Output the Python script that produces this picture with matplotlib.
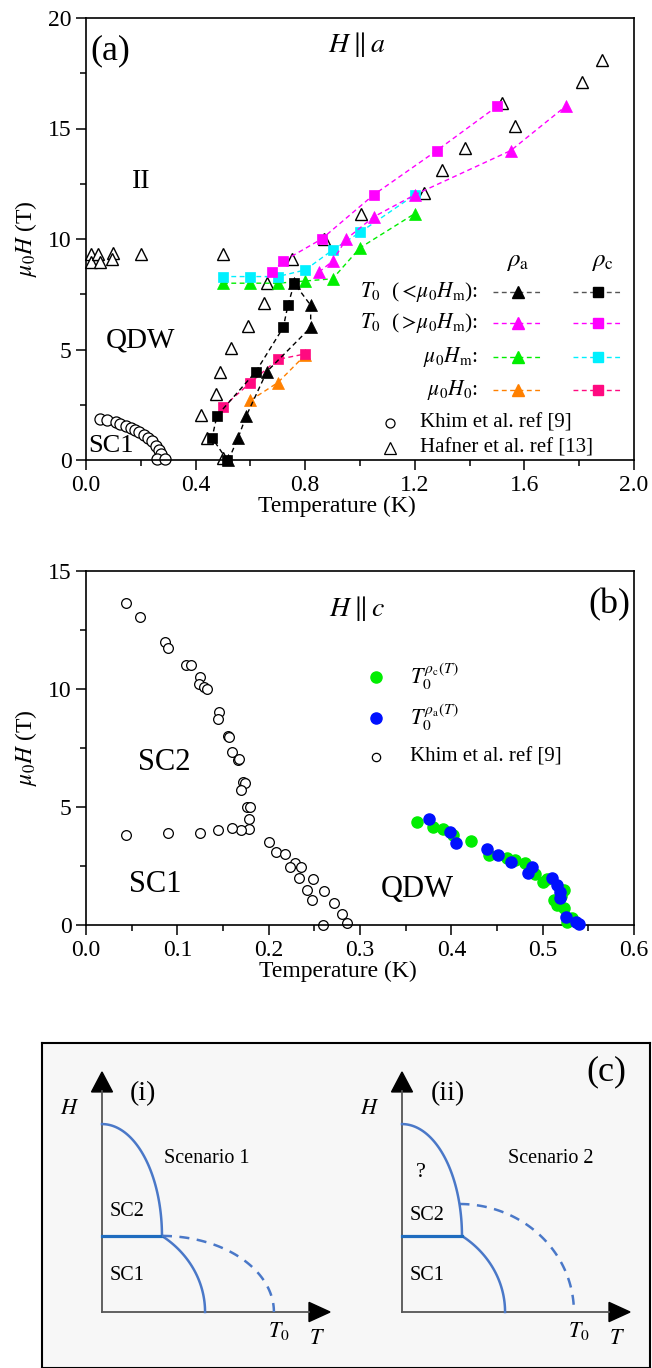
import numpy as np
import matplotlib
matplotlib.use("Agg")
import matplotlib.pyplot as plt
from matplotlib.patches import Polygon
from matplotlib.ticker import MultipleLocator, FormatStrFormatter

plt.rcParams['font.family'] = ['Liberation Serif', 'DejaVu Serif']
plt.rcParams['mathtext.fontset'] = 'stix'

# ---------------- panel (a): H || a ----------------
khim_a_T = [0.05, 0.075, 0.11, 0.125, 0.145, 0.165, 0.18, 0.195, 0.21, 0.225,
            0.24, 0.255, 0.265, 0.275, 0.26, 0.29]
khim_a_H = [1.85, 1.8, 1.72, 1.65, 1.55, 1.45, 1.35, 1.25, 1.15, 1.0,
            0.85, 0.65, 0.45, 0.25, 0.05, 0.05]

hafner_T = [0.018, 0.018, 0.045, 0.052, 0.10, 0.095, 0.20, 0.50, 0.50, 0.44,
            0.42, 0.475, 0.49, 0.53, 0.59, 0.65, 0.66, 0.75, 0.87, 1.005,
            1.235, 1.30, 1.385, 1.52, 1.565, 1.81, 1.885]
hafner_H = [9.3, 8.95, 9.3, 8.95, 9.35, 9.1, 9.3, 9.3, 0.1, 1.0,
            2.05, 3.0, 4.0, 5.05, 6.05, 7.1, 8.0, 9.1, 10.0, 11.15,
            12.1, 13.1, 14.1, 16.15, 15.1, 17.1, 18.1]

# T0 below the metamagnetic field
t0_low_a_T = [0.52, 0.555, 0.585, 0.66, 0.82, 0.82, 0.76]
t0_low_a_H = [0.0, 1.0, 2.0, 4.0, 6.0, 7.0, 8.0]
t0_low_c_T = [0.515, 0.46, 0.478, 0.62, 0.72, 0.737, 0.76]
t0_low_c_H = [0.0, 1.0, 2.0, 4.0, 6.0, 7.0, 8.0]

# T0 above the metamagnetic field
t0_high_a_T = [0.85, 0.9, 0.95, 1.05, 1.2, 1.55, 1.75]
t0_high_a_H = [8.5, 9.0, 10.0, 11.0, 12.0, 14.0, 16.0]
t0_high_c_T = [0.68, 0.72, 0.86, 1.05, 1.28, 1.5]
t0_high_c_H = [8.5, 9.0, 10.0, 12.0, 14.0, 16.0]

# metamagnetic field Hm
hm_a_T = [0.5, 0.6, 0.7, 0.8, 0.9, 1.0, 1.2]
hm_a_H = [8.0, 8.0, 8.0, 8.1, 8.2, 9.6, 11.15]
hm_c_T = [0.5, 0.6, 0.7, 0.8, 0.9, 1.0, 1.2]
hm_c_H = [8.3, 8.3, 8.3, 8.6, 9.5, 10.3, 12.0]

# field H0
h0_a_T = [0.6, 0.7, 0.8]
h0_a_H = [2.7, 3.5, 4.75]
h0_c_T = [0.5, 0.6, 0.7, 0.8]
h0_c_H = [2.4, 3.5, 4.55, 4.8]

# ---------------- panel (b): H || c ----------------
khim_b_T = [0.044, 0.059, 0.086, 0.09, 0.110, 0.115, 0.125, 0.124, 0.129, 0.133,
            0.146, 0.144, 0.156, 0.157, 0.160, 0.166, 0.167, 0.172, 0.174, 0.170,
            0.176, 0.180, 0.179, 0.179, 0.170, 0.160, 0.144, 0.125, 0.090, 0.044,
            0.200, 0.208, 0.218, 0.229, 0.223, 0.235, 0.233, 0.249, 0.242, 0.247,
            0.261, 0.271, 0.280, 0.286, 0.260]
khim_b_H = [13.64, 13.05, 12.0, 11.73, 11.0, 11.0, 10.5, 10.2, 10.1, 10.0,
            9.03, 8.73, 8.0, 7.97, 7.33, 7.0, 7.03, 6.06, 6.0, 5.72,
            5.0, 5.0, 4.49, 4.07, 4.03, 4.1, 4.03, 3.9, 3.9, 3.83,
            3.5, 3.1, 3.0, 2.63, 2.46, 2.46, 1.99, 1.95, 1.48, 1.06,
            1.44, 0.93, 0.47, 0.08, 0.0]

t0_rhoc_T = [0.362, 0.38, 0.391, 0.402, 0.421, 0.441, 0.461, 0.47, 0.481, 0.492,
             0.50, 0.505, 0.512, 0.516, 0.523, 0.52, 0.523, 0.527, 0.532]
t0_rhoc_H = [4.36, 4.15, 4.07, 3.81, 3.56, 2.97, 2.84, 2.75, 2.63, 2.16,
             1.82, 1.95, 1.06, 0.85, 1.48, 1.25, 0.72, 0.13, 0.3]
t0_rhoa_T = [0.375, 0.399, 0.405, 0.439, 0.451, 0.465, 0.488, 0.484, 0.51, 0.516,
             0.519, 0.519, 0.525, 0.536, 0.54]
t0_rhoa_H = [4.49, 3.94, 3.47, 3.22, 2.97, 2.67, 2.46, 2.2, 1.99, 1.69,
             1.40, 1.14, 0.34, 0.13, 0.05]

BLACK = '#000000'
MAGENTA = '#ff00ff'
GREEN = '#00ee00'
CYAN = '#00f0ff'
ORANGE = '#ff8000'
PINK = '#ff0a80'
BLUE = '#0010ff'
DASH = (0, (3.5, 2.5))

W, H = 652, 1368
fig = plt.figure(figsize=(W / 100, H / 100), dpi=100)


def box(l, t, r, b):
    return [l / W, 1 - b / H, (r - l) / W, (b - t) / H]


def style(ax):
    for s in ax.spines.values():
        s.set_linewidth(1.2)
    ax.tick_params(which='both', direction='out', top=False, right=False,
                   labelsize=17, width=1.1)
    ax.tick_params(which='major', length=7)
    ax.tick_params(which='minor', length=4)


# ================= panel (a) =================
ax_a = fig.add_axes(box(86, 18, 634, 460))
style(ax_a)
ax_a.set_xlim(0, 2.0)
ax_a.set_ylim(0, 20)
ax_a.xaxis.set_major_locator(MultipleLocator(0.4))
ax_a.xaxis.set_minor_locator(MultipleLocator(0.2))
ax_a.xaxis.set_major_formatter(FormatStrFormatter('%.1f'))
ax_a.yaxis.set_major_locator(MultipleLocator(5))
ax_a.yaxis.set_minor_locator(MultipleLocator(2.5))
ax_a.set_xlabel('Temperature (K)', fontsize=17)
ax_a.xaxis.set_label_coords(0.458, -0.082)
ax_a.set_ylabel(r'$\mu_0H$ (T)', fontsize=17, labelpad=6)

ax_a.plot(hafner_T, hafner_H, ls='none', marker='^', ms=9, mfc='white',
          mec='black', mew=1.0, zorder=2, clip_on=False)
ax_a.plot(khim_a_T, khim_a_H, ls='none', marker='o', ms=8, mfc='white',
          mec='black', mew=0.9, zorder=2, clip_on=False)

series_a = [
    (hm_a_T, hm_a_H, '^', GREEN),
    (hm_c_T, hm_c_H, 's', CYAN),
    (t0_high_a_T, t0_high_a_H, '^', MAGENTA),
    (t0_high_c_T, t0_high_c_H, 's', MAGENTA),
    (h0_a_T, h0_a_H, '^', ORANGE),
    (h0_c_T, h0_c_H, 's', PINK),
    (t0_low_a_T, t0_low_a_H, '^', BLACK),
    (t0_low_c_T, t0_low_c_H, 's', BLACK),
]
for xs, ys, m, c in series_a:
    ax_a.plot(xs, ys, ls=DASH, lw=1.0, color=c, marker=m,
              ms=9 if m == '^' else 7.5, mfc=c, mec=c, mew=0.5,
              zorder=3, clip_on=False)

ax_a.text(0.09, 18.5, '(a)', fontsize=26, ha='center', va='center')
ax_a.text(0.99, 18.8, r'$H\parallel a$', fontsize=20, ha='center', va='center')
ax_a.text(0.20, 12.6, 'II', fontsize=20, ha='center', va='center')
ax_a.text(0.20, 5.4, 'QDW', fontsize=21, ha='center', va='center')
ax_a.text(0.09, 0.65, 'SC1', fontsize=19, ha='center', va='center')

# legend, laid out as a table of rho_a / rho_c keys
tr = ax_a.transAxes
ax_a.text(0.788, 0.448, r'$\rho_{\rm a}$', transform=tr, fontsize=18,
          ha='center', va='center')
ax_a.text(0.943, 0.448, r'$\rho_{\rm c}$', transform=tr, fontsize=18,
          ha='center', va='center')
rows = [
    (r'$T_0$  ($<\!\mu_0H_{\rm m}$):', BLACK, BLACK, 0.380),
    (r'$T_0$  ($>\!\mu_0H_{\rm m}$):', MAGENTA, MAGENTA, 0.310),
    (r'$\mu_0H_{\rm m}$:', GREEN, CYAN, 0.233),
    (r'$\mu_0H_0$:', ORANGE, PINK, 0.158),
]
for label, ca, cc, yy in rows:
    ax_a.text(0.715, yy, label, transform=tr, fontsize=15.5,
              ha='right', va='center')
    key_a = '#555555' if ca == BLACK else ca
    key_c = '#555555' if cc == BLACK else cc
    ax_a.plot([0.743, 0.832], [yy, yy], transform=tr, ls=DASH, lw=1.0,
              color=key_a, clip_on=False)
    ax_a.plot([0.788], [yy], transform=tr, marker='^', ms=9, color=ca,
              ls='none', clip_on=False)
    ax_a.plot([0.889, 0.976], [yy, yy], transform=tr, ls=DASH, lw=1.0,
              color=key_c, clip_on=False)
    ax_a.plot([0.934], [yy], transform=tr, marker='s', ms=7.5, color=cc,
              ls='none', clip_on=False)
ax_a.plot([0.555], [0.084], transform=tr, marker='o', ms=6.5, mfc='white',
          mec='black', mew=0.9, ls='none')
ax_a.text(0.609, 0.084, 'Khim et al. ref [9]', transform=tr, fontsize=15,
          ha='left', va='center')
ax_a.plot([0.555], [0.027], transform=tr, marker='^', ms=8, mfc='white',
          mec='black', mew=0.9, ls='none')
ax_a.text(0.609, 0.027, 'Hafner et al. ref [13]', transform=tr, fontsize=15,
          ha='left', va='center')

# ================= panel (b) =================
ax_b = fig.add_axes(box(86, 571, 634, 925))
style(ax_b)
ax_b.set_xlim(0, 0.6)
ax_b.set_ylim(0, 15)
ax_b.xaxis.set_major_locator(MultipleLocator(0.1))
ax_b.xaxis.set_minor_locator(MultipleLocator(0.05))
ax_b.xaxis.set_major_formatter(FormatStrFormatter('%.1f'))
ax_b.yaxis.set_major_locator(MultipleLocator(5))
ax_b.yaxis.set_minor_locator(MultipleLocator(2.5))
ax_b.set_xlabel('Temperature (K)', fontsize=17)
ax_b.xaxis.set_label_coords(0.46, -0.102)
ax_b.set_ylabel(r'$\mu_0H$ (T)', fontsize=17, labelpad=6)

ax_b.plot(khim_b_T, khim_b_H, ls='none', marker='o', ms=7, mfc='white',
          mec='black', mew=0.9, zorder=2, clip_on=False)
ax_b.plot(t0_rhoc_T, t0_rhoc_H, ls='none', marker='o', ms=8, color=GREEN,
          zorder=3, clip_on=False)
ax_b.plot(t0_rhoa_T, t0_rhoa_H, ls='none', marker='o', ms=8, color=BLUE,
          zorder=4, clip_on=False)

ax_b.text(0.297, 13.43, r'$H\parallel c$', fontsize=20, ha='center', va='center')
ax_b.text(0.573, 13.56, '(b)', fontsize=26, ha='center', va='center')
ax_b.text(0.086, 6.9, 'SC2', fontsize=22, ha='center', va='center')
ax_b.text(0.076, 1.7, 'SC1', fontsize=22, ha='center', va='center')
ax_b.text(0.363, 1.5, 'QDW', fontsize=22, ha='center', va='center')

trb = ax_b.transAxes
ax_b.plot([0.529], [0.70], transform=trb, marker='o', ms=8, color=GREEN, ls='none')
ax_b.text(0.591, 0.70, r'$T_0^{\rho_{\rm c}(T)}$', transform=trb, fontsize=16,
          ha='left', va='center')
ax_b.plot([0.529], [0.585], transform=trb, marker='o', ms=8, color=BLUE, ls='none')
ax_b.text(0.591, 0.585, r'$T_0^{\rho_{\rm a}(T)}$', transform=trb, fontsize=16,
          ha='left', va='center')
ax_b.plot([0.529], [0.475], transform=trb, marker='o', ms=6, mfc='white',
          mec='black', mew=0.9, ls='none')
ax_b.text(0.591, 0.475, 'Khim et al. ref [9]', transform=trb, fontsize=15,
          ha='left', va='center')

# ================= panel (c): schematic scenarios =================
ax_c = fig.add_axes(box(42, 1043, 650, 1368))
ax_c.set_facecolor('#f7f7f7')
ax_c.set_xticks([])
ax_c.set_yticks([])
for s in ax_c.spines.values():
    s.set_linewidth(1.5)
ax_c.text(0.928, 0.911, '(c)', transform=ax_c.transAxes, fontsize=26,
          ha='center', va='center')

# schematic phase-boundary parameters (normalised T, H units)
H_TOP = 0.783
H_SPLIT = 0.317
T_SPLIT = 0.263
T_SC1 = 0.452
T_ZERO = 0.754
SOLID = '#4a78c8'
SPLIT_COLOR = '#1f6cbf'
AXIS_GRAY = '#555555'


def scenario(left_px, tag, name, dash_start_h, question):
    ax = fig.add_axes(box(left_px, 1072, left_px + 228, 1312))
    ax.set_xlim(0, 1)
    ax.set_ylim(0, 1)
    ax.axis('off')
    kw = dict(clip_on=False)
    # axes with arrowheads
    ax.plot([0, 0.91], [0, 0], color=AXIS_GRAY, lw=1.3, **kw)
    ax.plot([0, 0], [0, 0.92], color=AXIS_GRAY, lw=1.3, **kw)
    ax.add_patch(Polygon([[1.0, 0], [0.908, 0.04], [0.908, -0.04]],
                         closed=True, color='black', **kw))
    ax.add_patch(Polygon([[0, 1.0], [-0.046, 0.917], [0.046, 0.917]],
                         closed=True, color='black', **kw))
    # upper (SC2) boundary
    th = np.linspace(0, np.pi / 2, 100)
    ax.plot(T_SPLIT * np.cos(th), H_SPLIT + (H_TOP - H_SPLIT) * np.sin(th),
            color=SOLID, lw=1.8, **kw)
    # SC1 boundary
    b1 = H_SPLIT / np.sqrt(1 - (T_SPLIT / T_SC1) ** 2)
    th1 = np.linspace(np.arccos(T_SPLIT / T_SC1), 0, 100)
    ax.plot(T_SC1 * np.cos(th1), b1 * np.sin(th1), color=SOLID, lw=1.8, **kw)
    # SC1 / SC2 line
    ax.plot([0, T_SPLIT], [H_SPLIT, H_SPLIT], color=SPLIT_COLOR, lw=2.3, **kw)
    # dashed T0 line
    s = (dash_start_h - H_SPLIT) / (H_TOP - H_SPLIT)
    x0 = T_SPLIT * np.cos(np.arcsin(s))
    th2 = np.linspace(np.pi / 2, 0, 100)
    ax.plot(x0 + (T_ZERO - x0) * np.cos(th2), dash_start_h * np.sin(th2),
            color=SOLID, lw=1.8, ls=(0, (4, 3)), **kw)
    # labels
    ax.text(-0.14, 0.845, r'$H$', fontsize=16, ha='center', va='center')
    ax.text(0.18 if tag == '(i)' else 0.20, 0.91, tag, fontsize=20,
            ha='center', va='center')
    ax.text(0.46 if tag == '(i)' else 0.654, 0.64, name, fontsize=14.5,
            ha='center', va='center')
    ax.text(0.11, 0.40 if tag == '(ii)' else 0.42, 'SC2', fontsize=14.5,
            ha='center', va='center')
    ax.text(0.11, 0.154, 'SC1', fontsize=14.5, ha='center', va='center')
    if question:
        ax.text(0.083, 0.58, '?', fontsize=16, ha='center', va='center')
    ax.text(0.775, -0.08, r'$T_0$', fontsize=16, ha='center', va='center')
    ax.text(0.945, -0.115, r'$T$', fontsize=16, ha='center', va='center')


scenario(102, '(i)', 'Scenario 1', H_SPLIT, False)
scenario(402, '(ii)', 'Scenario 2', 0.45, True)

fig.savefig('out.png', dpi=100)
